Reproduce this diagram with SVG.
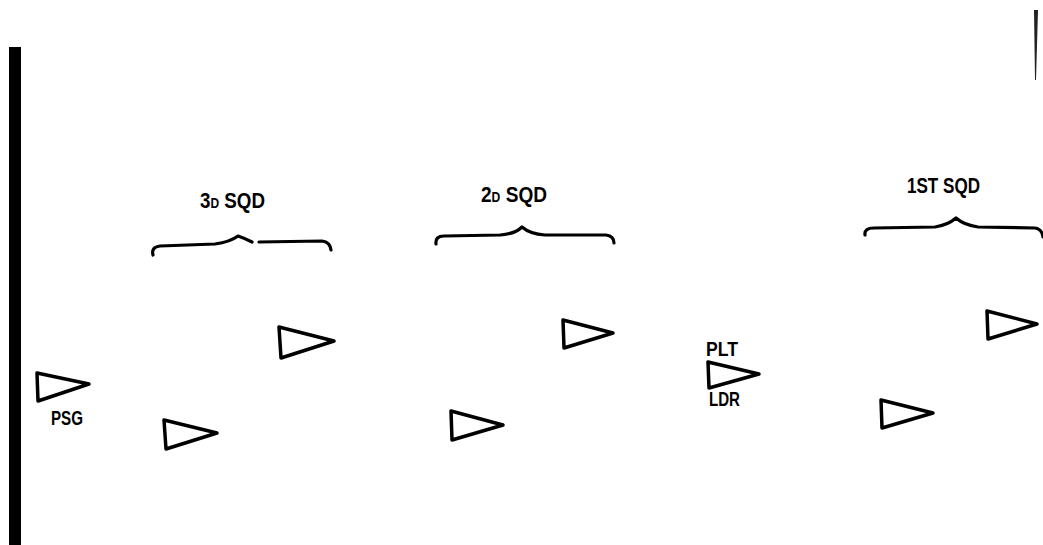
<svg xmlns="http://www.w3.org/2000/svg" width="1043" height="545" viewBox="0 0 1043 545">
<style>
.tri{fill:none;stroke:#000;stroke-width:3.5;stroke-linejoin:round;stroke-linecap:round}
.brace{fill:none;stroke:#000;stroke-width:3.2;stroke-linecap:round;stroke-linejoin:round}
.lbl{font-family:"Liberation Sans",Arial,sans-serif;font-weight:bold;fill:#000}
.sq{font-size:22px}
.nm{font-size:20px}
</style>
<rect width="1043" height="545" fill="#fff"/>
<g id="frame">
<rect x="9" y="47" width="12" height="498" fill="#000"/>
<path d="M1034,10 L1038,10 L1036,80 L1035,80 Z" fill="#222"/>
</g>
<g id="squad-3d">
<text class="lbl sq" x="200" y="208" textLength="65" lengthAdjust="spacingAndGlyphs">3<tspan font-size="14">D</tspan> SQD</text>
<path class="brace" d="M153,255 Q151,247 160,246 L215,244 Q230,242 238,236 Q244,238 252,242 M259,242 L322,241 Q330,242 331,250"/>
</g>
<g id="squad-2d">
<text class="lbl sq" x="481" y="202" textLength="66" lengthAdjust="spacingAndGlyphs">2<tspan font-size="14">D</tspan> SQD</text>
<path class="brace" d="M436,244 Q435,236 444,236 L500,235 Q515,234 522,227 Q530,234 545,235 L606,235 Q614,236 614,243"/>
</g>
<g id="squad-1st">
<text class="lbl sq" x="907" y="193" textLength="73" lengthAdjust="spacingAndGlyphs">1ST SQD</text>
<path class="brace" d="M865,235 Q864,228 874,228 L935,227 Q948,225 956,218 Q964,225 978,227 L1035,228 Q1042,229 1043,237"/>
</g>
<g id="connectors"></g>
<g id="node-psg">
<polygon class="tri" points="37,373 38,401 89,384"/>
<text class="lbl nm" x="51" y="425" textLength="32" lengthAdjust="spacingAndGlyphs">PSG</text>
</g>
<g id="node-3d-a">
<polygon class="tri" points="279,327 281,358 334,341"/>
</g>
<g id="node-3d-b">
<polygon class="tri" points="164,420 166,449 217,433"/>
</g>
<g id="node-2d-a">
<polygon class="tri" points="563,320 564,348 613,333"/>
</g>
<g id="node-2d-b">
<polygon class="tri" points="451,411 452,440 503,425"/>
</g>
<g id="node-pltldr">
<polygon class="tri" points="708,362 709,388 759,374"/>
<text class="lbl nm" x="706" y="356" textLength="32" lengthAdjust="spacingAndGlyphs">PLT</text>
<text class="lbl nm" x="709" y="406" textLength="31" lengthAdjust="spacingAndGlyphs">LDR</text>
</g>
<g id="node-1st-a">
<polygon class="tri" points="987,311 988,339 1037,324"/>
</g>
<g id="node-1st-b">
<polygon class="tri" points="881,400 882,428 933,413"/>
</g>
</svg>
